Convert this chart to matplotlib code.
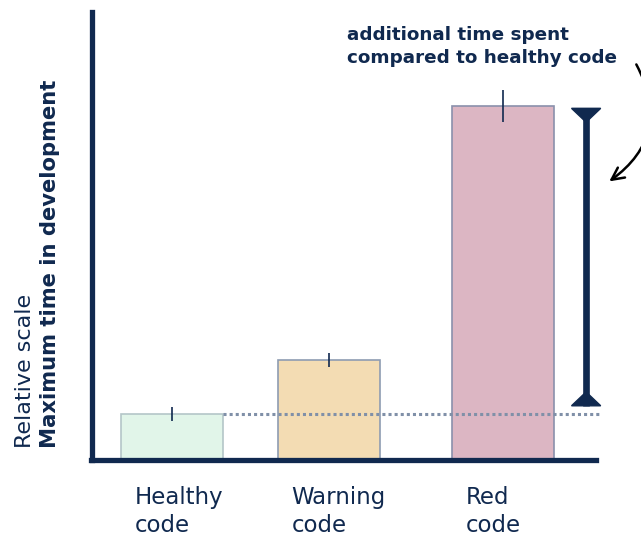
import matplotlib

matplotlib.use("Agg")
import matplotlib.pyplot as plt
from matplotlib.patches import Polygon
from matplotlib.transforms import blended_transform_factory

categories = ["Healthy\ncode", "Warning\ncode", "Red\ncode"]
positions = [0.0, 1.0, 2.11]
values = [10.3, 22.3, 79.0]
errors = [1.5, 1.5, 3.5]

fills = ["#e1f5e9", "#f3dcb3", "#dcb6c3"]
edges = ["#b4c6c8", "#8e9cb2", "#8a90ab"]
navy = "#10294f"

plt.rcParams["font.family"] = ["DejaVu Sans"]

fig = plt.figure(figsize=(6.41, 5.37), dpi=100)
ax = fig.add_axes([91.5 / 641, 1 - 460 / 537, (596 - 91.5) / 641, (460 - 12) / 537])

ax.bar(positions, values, width=0.65, color=fills, edgecolor=edges, linewidth=1.2, zorder=2)
ax.errorbar(positions, values, yerr=errors, fmt="none", ecolor=navy, elinewidth=1.2, capsize=0, zorder=3)

# baseline reference from the healthy bar
ax.plot([positions[0] + 0.325, 2.73], [values[0], values[0]], color="#8090a8",
        linestyle=(0, (1, 1)), linewidth=2.2, clip_on=False, zorder=4)

# bracket showing the extra time
xb = 2.637
y_lo = values[0] + 1.8
y_hi = values[2] - 0.5
half_w = 0.093
cap_h = 3.1
ax.plot([xb, xb], [y_lo, y_hi], color=navy, linewidth=4.8, solid_capstyle="butt", zorder=4)
ax.add_patch(Polygon([[xb - half_w, y_hi], [xb + half_w, y_hi], [xb, y_hi - cap_h]],
                     closed=True, color=navy, zorder=4, clip_on=False))
ax.add_patch(Polygon([[xb - half_w, y_lo], [xb + half_w, y_lo], [xb, y_lo + cap_h]],
                     closed=True, color=navy, zorder=4, clip_on=False))

ax.set_xlim(-0.513, 2.70)
ax.set_ylim(0, 100)

for side in ["top", "right"]:
    ax.spines[side].set_visible(False)
for side in ["left", "bottom"]:
    ax.spines[side].set_color(navy)
    ax.spines[side].set_linewidth(3.8)
ax.set_yticks([])
ax.set_xticks([])

# category labels, left aligned a little inside each bar
label_tr = blended_transform_factory(ax.transData, fig.transFigure)
for pos, label in zip(positions, categories):
    ax.text(pos - 0.24, 1 - 486 / 537, label, transform=label_tr,
            fontsize=16.5, color=navy, ha="left", va="top", linespacing=1.3)

fig.text(25 / 641, 1 - 448 / 537, "Relative scale", rotation=90, fontsize=16,
         color=navy, ha="center", va="bottom")
fig.text(50 / 641, 1 - 448 / 537, "Maximum time in development", rotation=90,
         fontsize=15.2, fontweight="bold", color=navy, ha="center", va="bottom")

fig.text(347 / 641, 1 - 26 / 537, "additional time spent\ncompared to healthy code",
         fontsize=13.2, fontweight="bold", color=navy, ha="left", va="top", linespacing=1.35)

ax.annotate("", xy=(607 / 641, 1 - 183 / 537), xycoords="figure fraction",
            xytext=(635 / 641, 1 - 62 / 537), textcoords="figure fraction",
            arrowprops=dict(arrowstyle="->", color="black", lw=1.8,
                            connectionstyle="arc3,rad=-0.45", mutation_scale=22),
            annotation_clip=False)

fig.savefig("out.png", dpi=100)
